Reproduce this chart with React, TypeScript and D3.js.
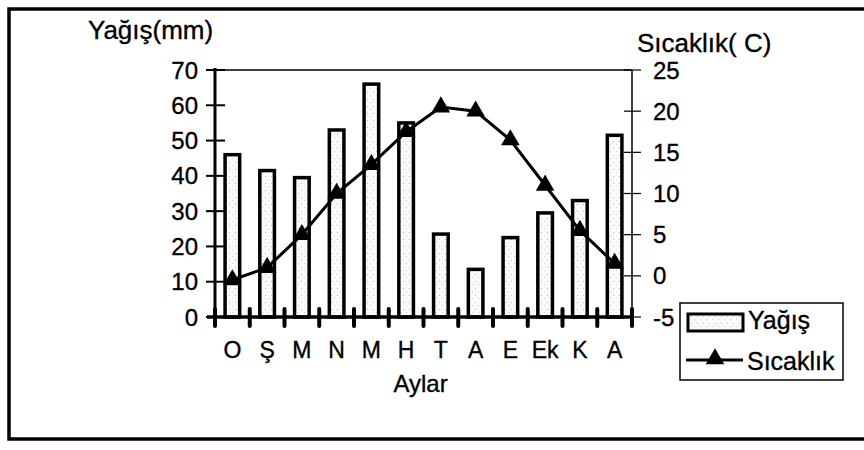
import * as d3 from 'd3';

// months (Turkish abbreviations)
const months = ['O', 'Ş', 'M', 'N', 'M', 'H', 'T', 'A', 'E', 'Ek', 'K', 'A'];
// precipitation, mm
const yagis = [46, 41.5, 39.5, 53, 66, 55, 23.5, 13.5, 22.5, 29.5, 33, 51.5];
// temperature, C
const sicaklik = [-0.5, 1, 5, 10, 13.5, 17.5, 20.5, 20, 16.5, 11, 5.5, 1.5];
// axis ticks
const leftTicks = [0, 10, 20, 30, 40, 50, 60, 70];
const rightTicks = [-5, 0, 5, 10, 15, 20, 25];

export default function App() {
  const width = 864;
  const height = 450;
  const plot = { left: 215, right: 632, top: 70, bottom: 317 };
  const font = '"Liberation Sans", Arial, sans-serif';
  // scanned look: text a touch heavier
  const ink = { fill: '#000', stroke: '#000', strokeWidth: 0.35 };

  const x = d3.scaleBand<number>()
    .domain(months.map((_, i) => i))
    .range([plot.left, plot.right]);
  const barW = x.bandwidth() * 0.42;

  const yL = d3.scaleLinear().domain([0, 70]).range([plot.bottom, plot.top]);
  const yR = d3.scaleLinear().domain([-5, 25]).range([plot.bottom, plot.top]);

  const line = d3.line<number>()
    .x((_, i) => (x(i) as number) + x.bandwidth() / 2)
    .y(d => yR(d));

  const tri = d3.symbol().type(d3.symbolTriangle).size(150)() as string;

  // band boundaries for the x ticks
  const xTicks = d3.range(months.length + 1).map(i =>
    i < months.length ? (x(i) as number) : plot.right
  );

  return (
    <svg
      width={width}
      height={height}
      style={{ position: 'absolute', left: 0, top: 0, background: '#fff' }}
      fontFamily={font}
    >
      <defs>
        <pattern id="speckle" width="6" height="7" patternUnits="userSpaceOnUse">
          <rect width="6" height="7" fill="#fbfbfb" />
          <rect x="1" y="1" width="1" height="1" fill="#b8b8b8" />
          <rect x="4" y="4" width="1" height="1" fill="#cfcfcf" />
        </pattern>
      </defs>

      {/* outer frame */}
      <path d="M866,9 L9,9 L9,439 L866,439" fill="none" stroke="#000" strokeWidth={3.5} />

      {/* axis titles */}
      <text x={88} y={39} fontSize={26} {...ink}>Yağış(mm)</text>
      <text x={637} y={52} fontSize={26} {...ink}>Sıcaklık( C)</text>

      {/* top border of plot */}
      <line x1={plot.left} x2={plot.right} y1={plot.top} y2={plot.top} stroke="#000" strokeWidth={1.5} />

      {/* bars */}
      {yagis.map((d, i) => (
        <rect
          key={i}
          x={(x(i) as number) + (x.bandwidth() - barW) / 2}
          y={yL(d)}
          width={barW}
          height={yL(0) - yL(d)}
          fill="url(#speckle)"
          stroke="#000"
          strokeWidth={3.5}
        />
      ))}

      {/* temperature line */}
      <path d={line(sicaklik) as string} fill="none" stroke="#000" strokeWidth={3} />
      {sicaklik.map((d, i) => (
        <path
          key={i}
          d={tri}
          transform={`translate(${(x(i) as number) + x.bandwidth() / 2},${yR(d)})`}
          fill="#000"
        />
      ))}

      {/* left axis */}
      <line x1={plot.left} x2={plot.left} y1={plot.top - 2} y2={plot.bottom} stroke="#000" strokeWidth={3} />
      {leftTicks.map(t => (
        <g key={t}>
          <line x1={plot.left - 9} x2={plot.left + 10} y1={yL(t)} y2={yL(t)} stroke="#000" strokeWidth={2} />
          <text x={198} y={yL(t)} dy="0.36em" fontSize={24} textAnchor="end" {...ink}>{t}</text>
        </g>
      ))}

      {/* right axis */}
      <line x1={plot.right} x2={plot.right} y1={plot.top} y2={plot.bottom} stroke="#000" strokeWidth={1.5} />
      {rightTicks.map(t => (
        <g key={t}>
          <line x1={plot.right - 8} x2={plot.right + 9} y1={yR(t)} y2={yR(t)} stroke="#000" strokeWidth={1.2} />
          <text x={653} y={yR(t)} dy="0.36em" fontSize={24} {...ink}>{t}</text>
        </g>
      ))}

      {/* x axis */}
      <line x1={plot.left - 8} x2={plot.right + 2} y1={plot.bottom} y2={plot.bottom} stroke="#000" strokeWidth={3.5} />
      {xTicks.map((tx, i) => (
        <line key={i} x1={tx} x2={tx} y1={plot.bottom - 8} y2={plot.bottom + 9} stroke="#000" strokeWidth={4} strokeLinecap="round" />
      ))}
      {months.map((m, i) => (
        <text
          key={i}
          x={(x(i) as number) + x.bandwidth() / 2}
          y={358}
          fontSize={23}
          textAnchor="middle"
          {...ink}
        >
          {m}
        </text>
      ))}
      <text x={(plot.left + plot.right) / 2 - 3} y={392} fontSize={24} textAnchor="middle" {...ink}>Aylar</text>

      {/* legend */}
      <rect x={680} y={303} width={163} height={77} fill="#fff" stroke="#000" strokeWidth={1.5} />
      <rect x={688} y={314} width={55} height={17} fill="url(#speckle)" stroke="#000" strokeWidth={3} />
      <text x={748} y={329} fontSize={25} {...ink}>Yağış</text>
      <line x1={686} x2={743} y1={360} y2={360} stroke="#000" strokeWidth={3} />
      <path d={tri} transform="translate(715,359)" fill="#000" />
      <text x={747} y={370} fontSize={25} {...ink}>Sıcaklık</text>
    </svg>
  );
}
